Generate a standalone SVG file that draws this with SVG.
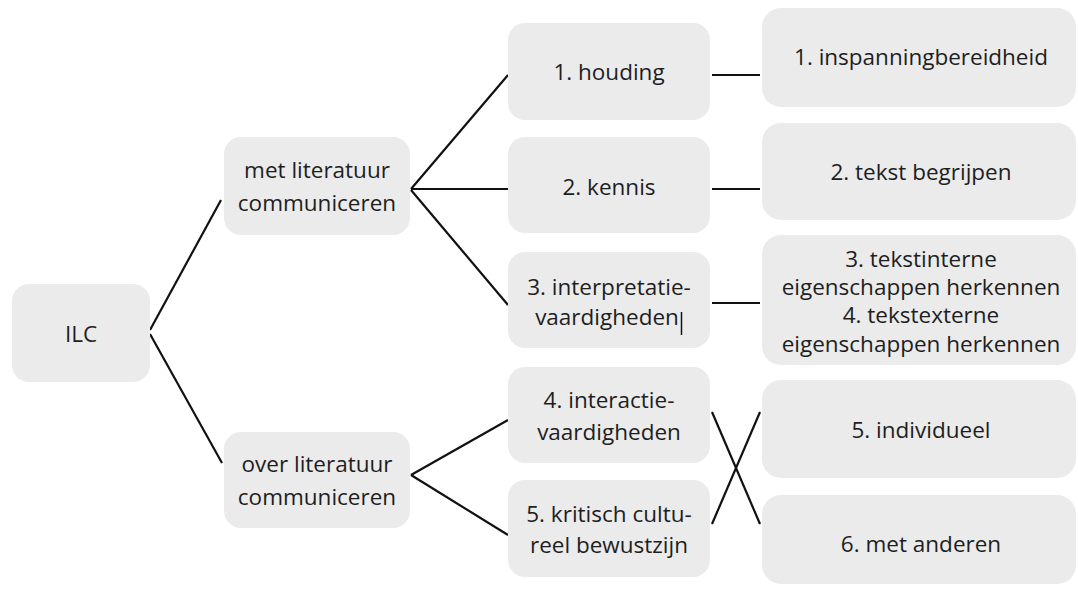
<svg xmlns="http://www.w3.org/2000/svg" width="1078" height="589" viewBox="0 0 1078 589">
<style>
.box{fill:#ebebeb;}
.t{font-family:"Open Sans","Noto Sans",sans-serif;font-size:22.5px;fill:#1e1e1e;text-anchor:middle;}
.c{stroke:#111;stroke-width:2.2;fill:none;stroke-linecap:butt;}
</style>
<rect width="1078" height="589" fill="#ffffff"/>
<g id="connectors">
<line class="c" x1="150" y1="330" x2="221" y2="200"/>
<line class="c" x1="150" y1="334" x2="222" y2="463"/>
<line class="c" x1="411" y1="189" x2="508" y2="75"/>
<line class="c" x1="411" y1="189" x2="508" y2="189"/>
<line class="c" x1="411" y1="190" x2="508" y2="305"/>
<line class="c" x1="411" y1="475" x2="508" y2="420"/>
<line class="c" x1="411" y1="475" x2="508" y2="535"/>
<line class="c" x1="712" y1="75" x2="760" y2="75"/>
<line class="c" x1="712" y1="189" x2="760" y2="189"/>
<line class="c" x1="712" y1="303" x2="760" y2="303"/>
<line class="c" x1="712" y1="412" x2="760" y2="524"/>
<line class="c" x1="712" y1="524" x2="760" y2="412"/>
</g>
<g id="n-ilc"><rect class="box" x="12" y="284" width="138" height="98" rx="17"/><text class="t" x="81" y="342">ILC</text></g>
<g id="n-met"><rect class="box" x="224" y="137" width="186" height="98" rx="17"/><text class="t" x="317" y="178">met literatuur</text><text class="t" x="317" y="211">communiceren</text></g>
<g id="n-over"><rect class="box" x="224" y="432" width="186" height="96" rx="17"/><text class="t" x="317" y="472">over literatuur</text><text class="t" x="317" y="505">communiceren</text></g>
<g id="n-houding"><rect class="box" x="508" y="23" width="202" height="97" rx="17"/><text class="t" x="609" y="80">1. houding</text></g>
<g id="n-kennis"><rect class="box" x="508" y="137" width="202" height="96" rx="17"/><text class="t" x="609" y="195">2. kennis</text></g>
<g id="n-interpretatie"><rect class="box" x="508" y="252" width="202" height="96" rx="17"/><text class="t" x="609" y="295">3. interpretatie-</text><text class="t" x="607" y="325">vaardigheden</text><line x1="681.5" y1="312" x2="681.5" y2="335" stroke="#111" stroke-width="1.5"/></g>
<g id="n-interactie"><rect class="box" x="508" y="367" width="202" height="96" rx="17"/><text class="t" x="609" y="408">4. interactie-</text><text class="t" x="609" y="440">vaardigheden</text></g>
<g id="n-kritisch"><rect class="box" x="508" y="480" width="202" height="97" rx="17"/><text class="t" x="609" y="522">5. kritisch cultu-</text><text class="t" x="609" y="553">reel bewustzijn</text></g>
<g id="n-inspanning"><rect class="box" x="762" y="8" width="314" height="99" rx="19"/><text class="t" x="921" y="65">1. inspanningbereidheid</text></g>
<g id="n-begrijpen"><rect class="box" x="762" y="123" width="314" height="97" rx="19"/><text class="t" x="921" y="180">2. tekst begrijpen</text></g>
<g id="n-eigenschappen"><rect class="box" x="762" y="235" width="314" height="130" rx="19"/><text class="t" x="921" y="267">3. tekstinterne</text><text class="t" x="921" y="295">eigenschappen herkennen</text><text class="t" x="921" y="323">4. tekstexterne</text><text class="t" x="921" y="352">eigenschappen herkennen</text></g>
<g id="n-individueel"><rect class="box" x="762" y="380" width="314" height="98" rx="19"/><text class="t" x="921" y="438">5. individueel</text></g>
<g id="n-anderen"><rect class="box" x="762" y="495" width="314" height="89" rx="19"/><text class="t" x="921" y="552">6. met anderen</text></g>
</svg>
